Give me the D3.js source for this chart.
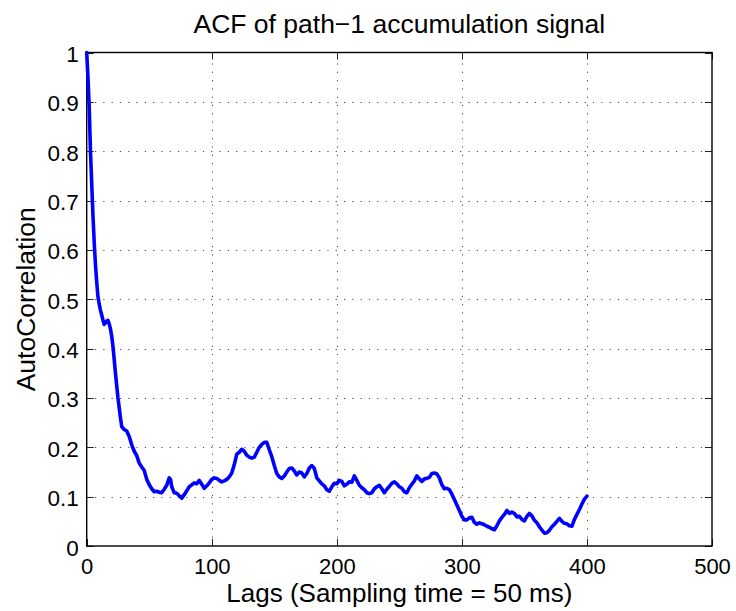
<!DOCTYPE html>
<html>
<head>
<meta charset="utf-8">
<script src="https://cdn.jsdelivr.net/npm/d3@7"></script>
<style>
  html, body { margin: 0; padding: 0; background: #fff; }
  svg { display: block; font-family: "Liberation Sans", Arial, Helvetica, sans-serif; }
</style>
</head>
<body>
<svg id="chart" width="736" height="611"></svg>
<script>
// Autocorrelation of the path-1 accumulation signal, by lag
const lags = [
  0, 1, 2, 3, 4, 5, 6, 7, 8, 9, 10, 11, 12, 13, 14, 15, 16, 17, 18, 19, 20, 21, 23, 25, 27, 28, 30, 32, 34, 36, 38, 40,
  42, 44, 46, 48, 50, 52, 54, 56, 58, 60, 62, 64, 66, 67, 68, 70, 72, 74, 76, 78, 80, 82, 84, 86, 88, 90, 92, 94, 96, 98,
  100, 102, 104, 106, 108, 110, 112, 114, 116, 118, 120, 122, 124, 126, 128, 130, 132, 134, 136, 138, 140, 142, 144, 146, 148,
  150, 152, 154, 156, 158, 160, 162, 164, 166, 168, 170, 172, 174, 176, 178, 180, 182, 184, 186, 188, 190, 192, 194, 196, 198,
  200, 202, 204, 206, 208, 210, 212, 214, 216, 218, 220, 222, 224, 226, 228, 230, 232, 234, 236, 238, 240, 242, 244, 246, 248,
  250, 252, 254, 256, 258, 260, 262, 264, 266, 268, 270, 272, 274, 276, 278, 280, 282, 284, 286, 288, 290, 292, 294, 296, 298,
  300, 302, 304, 306, 308, 310, 312, 314, 316, 318, 320, 322, 324, 326, 328, 330, 332, 334, 336, 338, 340, 342, 344, 346, 348,
  350, 352, 354, 356, 358, 360, 362, 364, 366, 368, 370, 372, 374, 376, 378, 380, 382, 384, 386, 388, 390, 392, 394, 396, 398, 400
];
const acf = [
  1.0, 0.95, 0.89, 0.80, 0.735, 0.67, 0.615, 0.57, 0.535, 0.505, 0.49, 0.478, 0.468, 0.458, 0.449, 0.452, 0.456, 0.457, 0.45, 0.44, 0.425, 0.405, 0.35, 0.30, 0.26, 0.242, 0.236, 0.233, 0.222, 0.205, 0.192, 0.183,
  0.168, 0.16, 0.153, 0.135, 0.124, 0.116, 0.110, 0.111, 0.109, 0.108, 0.115, 0.123, 0.138, 0.135, 0.12, 0.108, 0.107, 0.102, 0.097, 0.104, 0.112, 0.12, 0.124, 0.128, 0.126, 0.133, 0.125, 0.117, 0.122, 0.128,
  0.135, 0.138, 0.137, 0.133, 0.13, 0.132, 0.135, 0.14, 0.148, 0.165, 0.186, 0.19, 0.196, 0.192, 0.184, 0.18, 0.178, 0.18, 0.19, 0.2, 0.206, 0.21, 0.21, 0.195, 0.181,
  0.163, 0.147, 0.14, 0.137, 0.142, 0.15, 0.157, 0.158, 0.152, 0.144, 0.15, 0.148, 0.14, 0.147, 0.158, 0.163, 0.157, 0.138, 0.132, 0.126, 0.122, 0.114, 0.111, 0.12, 0.127,
  0.126, 0.133, 0.131, 0.122, 0.125, 0.13, 0.129, 0.142, 0.133, 0.123, 0.118, 0.114, 0.108, 0.106, 0.108, 0.116, 0.12, 0.123, 0.116, 0.108, 0.115, 0.121, 0.127, 0.13, 0.126,
  0.12, 0.117, 0.11, 0.108, 0.118, 0.125, 0.132, 0.142, 0.136, 0.131, 0.136, 0.137, 0.139, 0.147, 0.148, 0.146, 0.138, 0.124, 0.116, 0.117, 0.114, 0.105, 0.094, 0.083, 0.072,
  0.06, 0.053, 0.053, 0.057, 0.058, 0.048, 0.044, 0.047, 0.045, 0.043, 0.04, 0.038, 0.035, 0.033, 0.041, 0.051, 0.058, 0.064, 0.072, 0.066, 0.069, 0.066, 0.059, 0.06, 0.054,
  0.051, 0.06, 0.066, 0.061, 0.052, 0.047, 0.039, 0.032, 0.026, 0.027, 0.032, 0.039, 0.044, 0.05, 0.056, 0.05, 0.046, 0.045, 0.041, 0.04, 0.054, 0.064, 0.074, 0.085, 0.095, 0.101
];
const xTicks = [0, 100, 200, 300, 400, 500];
const yTicks = [0, 0.1, 0.2, 0.3, 0.4, 0.5, 0.6, 0.7, 0.8, 0.9, 1];

const titleText = "ACF of path\u22121 accumulation signal";
const xLabelText = "Lags (Sampling time = 50 ms)";
const yLabelText = "AutoCorrelation";

const svg = d3.select("#chart");
const plotLeft = 86.7, plotRight = 712, plotTop = 52.5, plotBottom = 546;

const x = d3.scaleLinear().domain([0, 500]).range([plotLeft, plotRight]);
const y = d3.scaleLinear().domain([0, 1]).range([plotBottom, plotTop]);

// dotted grid
const grid = svg.append("g")
  .attr("stroke", "#4a4a4a").attr("stroke-width", 1).attr("stroke-dasharray", "1.2,7.1");
grid.selectAll("line.gx").data(xTicks.filter(t => t > 0 && t < 500)).join("line")
  .attr("class", "gx")
  .attr("x1", d => Math.round(x(d)) + 0.5).attr("x2", d => Math.round(x(d)) + 0.5)
  .attr("y1", plotBottom).attr("y2", plotTop);
grid.selectAll("line.gy").data(yTicks.filter(t => t > 0 && t < 1)).join("line")
  .attr("class", "gy")
  .attr("y1", d => Math.round(y(d)) + 0.5).attr("y2", d => Math.round(y(d)) + 0.5)
  .attr("x1", plotLeft).attr("x2", plotRight);

// inward tick marks on all four sides
const tickLen = 7;
const ticks = svg.append("g").attr("stroke", "#222").attr("stroke-width", 1);
xTicks.forEach(t => {
  const px = Math.round(x(t)) + 0.5;
  ticks.append("line").attr("x1", px).attr("x2", px).attr("y1", plotBottom).attr("y2", plotBottom - tickLen);
  ticks.append("line").attr("x1", px).attr("x2", px).attr("y1", plotTop).attr("y2", plotTop + tickLen);
});
yTicks.forEach(t => {
  const py = Math.round(y(t)) + 0.5;
  ticks.append("line").attr("y1", py).attr("y2", py).attr("x1", plotLeft).attr("x2", plotLeft + tickLen);
  ticks.append("line").attr("y1", py).attr("y2", py).attr("x1", plotRight).attr("x2", plotRight - tickLen);
});

// axis box
svg.append("rect")
  .attr("x", plotLeft).attr("y", plotTop)
  .attr("width", plotRight - plotLeft).attr("height", plotBottom - plotTop)
  .attr("fill", "none").attr("stroke", "#000").attr("stroke-width", 1.4);

// tick labels via d3 axes (domain path and tick lines hidden)
const xAxis = svg.append("g")
  .attr("transform", `translate(0,${plotBottom})`)
  .call(d3.axisBottom(x).tickValues(xTicks).tickSize(0).tickPadding(0).tickFormat(d3.format("d")));
xAxis.select(".domain").remove();
xAxis.selectAll("text")
  .attr("dy", null).attr("y", 27.5)
  .attr("font-size", "22px").attr("fill", "#000")
  .attr("font-family", "'Liberation Sans', Arial, sans-serif");

const yAxis = svg.append("g")
  .attr("transform", `translate(${plotLeft},0)`)
  .call(d3.axisLeft(y).tickValues(yTicks).tickSize(0).tickPadding(0).tickFormat(d => d === 0 || d === 1 ? String(d) : d3.format(".1f")(d)));
yAxis.select(".domain").remove();
yAxis.selectAll("text")
  .attr("x", -8).attr("dy", "0.4em")
  .attr("font-size", "22.5px").attr("fill", "#000")
  .attr("font-family", "'Liberation Sans', Arial, sans-serif");

// ACF curve
const line = d3.line().x((d, i) => x(lags[i])).y(d => y(d));
svg.append("path")
  .datum(acf)
  .attr("d", line)
  .attr("fill", "none")
  .attr("stroke", "#0000ff")
  .attr("stroke-width", 3.6)
  .attr("stroke-linejoin", "round")
  .attr("stroke-linecap", "round");

// title and axis labels
svg.append("text")
  .attr("x", (plotLeft + plotRight) / 2).attr("y", 33)
  .attr("text-anchor", "middle").attr("font-size", "26.5px").attr("fill", "#000")
  .text(titleText);

svg.append("text")
  .attr("x", (plotLeft + plotRight) / 2).attr("y", 602)
  .attr("text-anchor", "middle").attr("font-size", "26px").attr("fill", "#000")
  .text(xLabelText);

svg.append("text")
  .attr("transform", `translate(35,${(plotTop + plotBottom) / 2}) rotate(-90)`)
  .attr("text-anchor", "middle").attr("font-size", "26.5px").attr("fill", "#000")
  .text(yLabelText);
</script>
</body>
</html>
